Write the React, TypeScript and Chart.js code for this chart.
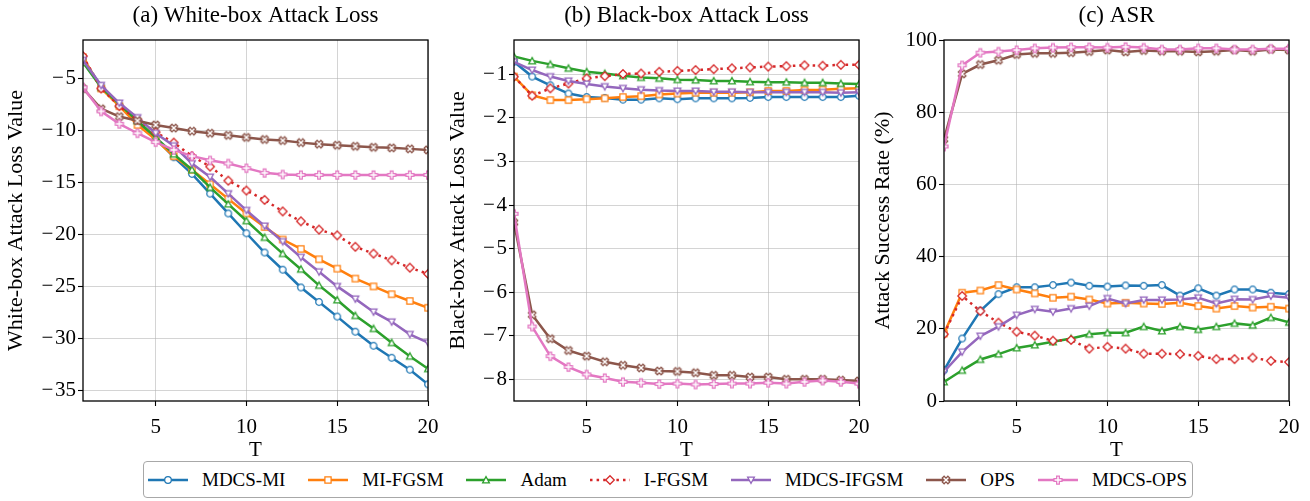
import React, { useEffect, useRef } from "react";
import { Chart, registerables } from "chart.js";

Chart.register(...registerables);

// ---------------- data ----------------
const T = [1, 2, 3, 4, 5, 6, 7, 8, 9, 10, 11, 12, 13, 14, 15, 16, 17, 18, 19, 20];

const SERIES_NAMES = ["MDCS-MI", "MI-FGSM", "Adam", "I-FGSM", "MDCS-IFGSM", "OPS", "MDCS-OPS"];

// (a) White-box attack loss
const wbMdcsMI = [-3.2, -5.8, -7.6, -9.2, -10.8, -12.6, -14.2, -16.1, -18.0, -19.9, -21.75, -23.4, -25.1, -26.5, -27.9, -29.35, -30.7, -31.85, -33.0, -34.4];
const wbMiFgsm = [-3.0, -6.0, -7.7, -9.5, -10.9, -12.5, -13.8, -15.2, -16.6, -18.0, -19.3, -20.5, -21.4, -22.4, -23.3, -24.25, -25.0, -25.75, -26.4, -27.05];
const wbAdam = [-3.5, -5.9, -7.5, -9.1, -10.7, -12.3, -13.8, -15.5, -17.1, -18.7, -20.3, -21.85, -23.35, -24.9, -26.3, -27.8, -29.05, -30.4, -31.7, -32.9];
const wbIFgsm = [-2.9, -6.0, -7.7, -9.0, -10.2, -11.2, -12.5, -13.5, -14.85, -15.8, -16.7, -17.8, -18.75, -19.55, -20.1, -21.2, -21.85, -22.5, -23.2, -23.8];
const wbMdcsIFgsm = [-3.3, -5.7, -7.4, -8.8, -10.3, -11.5, -13.2, -14.5, -16.1, -17.7, -19.2, -20.7, -22.2, -23.6, -25.0, -26.2, -27.45, -28.4, -29.6, -30.4];
const wbOps = [-6.0, -7.95, -8.7, -9.1, -9.5, -9.8, -10.1, -10.3, -10.5, -10.7, -10.9, -11.0, -11.2, -11.35, -11.45, -11.55, -11.65, -11.7, -11.8, -11.9];
const wbMdcsOps = [-5.9, -8.2, -9.4, -10.3, -11.15, -11.9, -12.5, -12.9, -13.2, -13.65, -14.1, -14.25, -14.3, -14.3, -14.3, -14.3, -14.3, -14.3, -14.3, -14.3];

// (b) Black-box attack loss
const bbMdcsMI = [-0.71, -1.05, -1.25, -1.44, -1.52, -1.54, -1.58, -1.58, -1.55, -1.57, -1.55, -1.55, -1.55, -1.54, -1.52, -1.52, -1.52, -1.52, -1.52, -1.49];
const bbMiFgsm = [-1.05, -1.48, -1.59, -1.59, -1.57, -1.55, -1.52, -1.5, -1.46, -1.44, -1.42, -1.42, -1.42, -1.41, -1.38, -1.38, -1.36, -1.35, -1.33, -1.32];
const bbAdam = [-0.59, -0.69, -0.77, -0.86, -0.94, -0.98, -1.03, -1.07, -1.09, -1.12, -1.13, -1.15, -1.15, -1.17, -1.18, -1.18, -1.19, -1.19, -1.21, -1.22];
const bbIFgsm = [-1.05, -1.49, -1.32, -1.21, -1.09, -1.04, -0.99, -0.98, -0.94, -0.92, -0.9, -0.88, -0.86, -0.84, -0.82, -0.81, -0.79, -0.8, -0.78, -0.78];
const bbMdcsIFgsm = [-0.71, -0.9, -1.05, -1.15, -1.22, -1.28, -1.32, -1.35, -1.37, -1.38, -1.38, -1.4, -1.4, -1.41, -1.41, -1.41, -1.41, -1.41, -1.42, -1.41];
const bbOps = [-4.4, -6.52, -7.07, -7.34, -7.47, -7.6, -7.68, -7.74, -7.81, -7.82, -7.85, -7.91, -7.91, -7.95, -7.95, -8.0, -8.0, -8.0, -8.02, -8.04];
const bbMdcsOps = [-4.2, -6.79, -7.47, -7.72, -7.89, -7.97, -8.06, -8.08, -8.11, -8.1, -8.12, -8.11, -8.1, -8.1, -8.08, -8.1, -8.06, -8.03, -8.06, -8.1];

// (c) ASR (%)
const asrMdcsMI = [8.5, 17.3, 25.0, 29.6, 31.5, 31.5, 32.1, 32.8, 31.9, 31.7, 32.0, 31.9, 32.1, 29.2, 31.2, 29.2, 30.9, 30.9, 30.0, 29.6];
const asrMiFgsm = [18.7, 30.0, 30.6, 32.1, 30.9, 29.8, 28.6, 28.9, 28.1, 27.0, 27.2, 27.0, 26.9, 27.2, 26.3, 25.6, 26.3, 25.9, 26.1, 25.6];
const asrAdam = [5.3, 8.5, 11.5, 13.0, 14.7, 15.5, 16.4, 17.3, 18.5, 18.9, 18.9, 20.6, 19.4, 20.6, 19.8, 20.6, 21.5, 21.0, 23.1, 21.8];
const asrIFgsm = [18.5, 29.1, 24.9, 21.7, 19.2, 18.1, 16.7, 16.9, 14.5, 15.0, 14.5, 13.1, 13.1, 13.0, 12.5, 11.6, 11.6, 12.0, 11.1, 10.8];
const asrMdcsIFgsm = [8.1, 13.6, 18.0, 20.6, 23.8, 25.4, 24.7, 25.6, 26.3, 28.4, 27.0, 28.0, 28.0, 28.1, 28.6, 27.0, 28.2, 28.1, 29.1, 28.6];
const asrOps = [72.5, 90.6, 93.2, 94.4, 96.0, 96.3, 96.3, 96.5, 96.8, 97.2, 96.7, 97.1, 96.9, 96.9, 96.7, 96.9, 97.2, 96.9, 97.4, 97.2];
const asrMdcsOps = [70.5, 93.0, 96.5, 96.8, 97.2, 97.7, 97.9, 98.0, 98.0, 97.9, 98.1, 97.9, 97.4, 97.4, 97.7, 97.7, 97.4, 97.4, 97.6, 97.6];

const X_TICKS = [5, 10, 15, 20];
const Y_TICKS_WB = [-35, -30, -25, -20, -15, -10, -5];
const Y_TICKS_BB = [-8, -7, -6, -5, -4, -3, -2, -1];
const Y_TICKS_ASR = [0, 20, 40, 60, 80, 100];

// ---------------- styles ----------------
const COLORS = ["#1f77b4", "#ff7f0e", "#2ca02c", "#d62728", "#9467bd", "#8c564b", "#e377c2"];
const MARKERS = ["o", "s", "^", "D", "v", "X", "P"];
const DOTTED = [false, false, false, true, false, false, false];
const FONT = "'Liberation Serif', 'Times New Roman', Times, serif";
const GRID = "rgba(176,176,176,0.55)";

Chart.defaults.font.family = FONT;
Chart.defaults.color = "#000";

type Pt = [number, number];

function markerPoly(kind: string): Pt[] | null {
  if (kind === "o") return null;
  if (kind === "s") { const h = 3.1; return [[-h, -h], [h, -h], [h, h], [-h, h]]; }
  if (kind === "^") { const r = 3.4; return [[0, -r], [r, r * 0.85], [-r, r * 0.85]]; }
  if (kind === "v") { const r = 3.4; return [[0, r], [r, -r * 0.85], [-r, -r * 0.85]]; }
  if (kind === "D") { const r = 4.3; return [[0, -r], [r, 0], [0, r], [-r, 0]]; }
  const r = 4.0, a = r / 3;
  const plus: Pt[] = [[-a, -r], [a, -r], [a, -a], [r, -a], [r, a], [a, a], [a, r], [-a, r], [-a, a], [-r, a], [-r, -a], [-a, -a]];
  if (kind === "P") return plus;
  const c = Math.SQRT1_2;
  return plus.map(([x, y]) => [c * (x - y), c * (x + y)] as Pt);
}

function makeMarkerCanvas(kind: string, color: string): HTMLCanvasElement {
  const cv = document.createElement("canvas");
  cv.width = 16; cv.height = 16;
  const ctx = cv.getContext("2d")!;
  ctx.translate(8, 8);
  ctx.beginPath();
  const poly = markerPoly(kind);
  if (!poly) ctx.arc(0, 0, 3.3, 0, Math.PI * 2);
  else { poly.forEach(([x, y], i) => (i ? ctx.lineTo(x, y) : ctx.moveTo(x, y))); ctx.closePath(); }
  ctx.fillStyle = "#fff";
  ctx.fill();
  ctx.lineWidth = 1.25;
  ctx.strokeStyle = color;
  ctx.lineJoin = "miter";
  ctx.stroke();
  return cv;
}

function fmtTick(v: number): string {
  return v < 0 ? "\u2212\u200A" + Math.abs(v) : String(v);
}

type PanelSpec = {
  title: string;
  yLabel: string;
  series: number[][];
  yMin: number;
  yMax: number;
  yTicks: number[];
  canvasLeft: number;
  canvasWidth: number;
  axisWidth: number;
  padRight: number;
  yTitlePad: number;
};

const CANVAS_H = 463;
const PLOT_TOP = 40;
const PLOT_BOTTOM = 401;

function ChartPanel({ spec }: { spec: PanelSpec }) {
  const ref = useRef<HTMLCanvasElement | null>(null);
  useEffect(() => {
    if (!ref.current) return;
    const datasets = spec.series.map((ys, i) => ({
      label: SERIES_NAMES[i],
      data: ys.map((y, k) => ({ x: T[k], y })),
      borderColor: COLORS[i],
      backgroundColor: COLORS[i],
      borderWidth: 2.5,
      borderDash: DOTTED[i] ? [2.5, 4.1] : [],
      pointStyle: makeMarkerCanvas(MARKERS[i], COLORS[i]) as any,
      pointRadius: 4,
      pointHoverRadius: 4,
      tension: 0,
      clip: 0,
      order: spec.series.length - i,
    }));
    const framePlugin = {
      id: "frameAndTitle",
      afterDatasetsDraw(chart: any) {
        const { ctx, chartArea: a } = chart;
        ctx.save();
        ctx.strokeStyle = "#000";
        ctx.lineWidth = 1.3;
        ctx.strokeRect(a.left, a.top, a.right - a.left, a.bottom - a.top);
        ctx.restore();
      },
      afterDraw(chart: any) {
        const { ctx, chartArea: a } = chart;
        ctx.save();
        ctx.fillStyle = "#000";
        ctx.font = `23px ${FONT}`;
        ctx.textAlign = "center";
        ctx.textBaseline = "alphabetic";
        ctx.fillText(spec.title, (a.left + a.right) / 2, 22);
        ctx.restore();
      },
    };
    const gridCommon = {
      color: GRID,
      lineWidth: 1,
      drawTicks: true,
      tickLength: 5,
      tickColor: "#000",
      tickWidth: 1.1,
    };
    const chart = new Chart(ref.current, {
      type: "line",
      data: { datasets: datasets as any },
      plugins: [framePlugin],
      options: {
        animation: false,
        responsive: false,
        devicePixelRatio: 1,
        events: [],
        layout: { padding: { left: 0, top: PLOT_TOP, right: spec.padRight, bottom: 0 } },
        plugins: { legend: { display: false }, tooltip: { enabled: false }, title: { display: false } },
        scales: {
          x: {
            type: "linear",
            min: 1,
            max: 20,
            afterBuildTicks: (s: any) => { s.ticks = X_TICKS.map((v) => ({ value: v })); },
            afterFit: (s: any) => {
              s.height = CANVAS_H - PLOT_BOTTOM;
              s.paddingLeft = 0;
              s.paddingRight = 0;
            },
            grid: gridCommon,
            border: { display: false },
            ticks: { font: { size: 21, family: FONT }, color: "#000", padding: 9, maxRotation: 0, autoSkip: false, callback: (v: any) => fmtTick(Number(v)) },
            title: { display: true, text: "T", font: { size: 21, family: FONT }, color: "#000", padding: { top: 0, bottom: 0 } },
          },
          y: {
            type: "linear",
            min: spec.yMin,
            max: spec.yMax,
            afterBuildTicks: (s: any) => { s.ticks = spec.yTicks.map((v) => ({ value: v })); },
            afterFit: (s: any) => {
              s.width = spec.axisWidth;
              s.paddingTop = 0;
              s.paddingBottom = 0;
            },
            grid: gridCommon,
            border: { display: false },
            ticks: { font: { size: 21, family: FONT }, color: "#000", padding: 2, autoSkip: false, callback: (v: any) => fmtTick(Number(v)) },
            title: { display: true, text: spec.yLabel, font: { size: 22, family: FONT }, color: "#000", padding: { top: spec.yTitlePad, bottom: 0 } },
          },
        },
      } as any,
    });
    return () => chart.destroy();
  }, []);
  return (
    <canvas
      ref={ref}
      width={spec.canvasWidth}
      height={CANVAS_H}
      style={{ position: "absolute", left: spec.canvasLeft, top: 0, width: spec.canvasWidth, height: CANVAS_H }}
    />
  );
}

const PANELS: PanelSpec[] = [
  {
    title: "(a) White-box Attack Loss",
    yLabel: "White-box Attack Loss Value",
    series: [wbMdcsMI, wbMiFgsm, wbAdam, wbIFgsm, wbMdcsIFgsm, wbOps, wbMdcsOps],
    yMin: -36.0, yMax: -1.35, yTicks: Y_TICKS_WB,
    canvasLeft: 0, canvasWidth: 440, axisWidth: 83, padRight: 12, yTitlePad: 3,
  },
  {
    title: "(b) Black-box Attack Loss",
    yLabel: "Black-box Attack Loss Value",
    series: [bbMdcsMI, bbMiFgsm, bbAdam, bbIFgsm, bbMdcsIFgsm, bbOps, bbMdcsOps],
    yMin: -8.5, yMax: -0.21, yTicks: Y_TICKS_BB,
    canvasLeft: 440, canvasWidth: 430, axisWidth: 74, padRight: 11, yTitlePad: 5,
  },
  {
    title: "(c) ASR",
    yLabel: "Attack Success Rate (%)",
    series: [asrMdcsMI, asrMiFgsm, asrAdam, asrIFgsm, asrMdcsIFgsm, asrOps, asrMdcsOps],
    yMin: 0, yMax: 100, yTicks: Y_TICKS_ASR,
    canvasLeft: 870, canvasWidth: 440, axisWidth: 74, padRight: 21, yTitlePad: 0,
  },
];

function LegendMarker({ kind, color }: { kind: string; color: string }) {
  const poly = markerPoly(kind);
  const cx = 20, cy = 10;
  return poly ? (
    <polygon
      points={poly.map(([x, y]) => `${cx + x},${cy + y}`).join(" ")}
      fill="#fff" stroke={color} strokeWidth={1.25}
    />
  ) : (
    <circle cx={cx} cy={cy} r={3.3} fill="#fff" stroke={color} strokeWidth={1.25} />
  );
}

function Legend() {
  return (
    <div
      style={{
        position: "absolute", left: 143, top: 461, width: 1050, height: 37, boxSizing: "border-box",
        border: "1.5px solid #a8a8a8", borderRadius: 4, background: "#fff",
        display: "flex", alignItems: "center", justifyContent: "space-between",
        padding: "0 5px 0 4px", fontFamily: FONT, fontSize: 19, color: "#000",
      }}
    >
      {SERIES_NAMES.map((name, i) => (
        <div key={name} style={{ display: "flex", alignItems: "center", whiteSpace: "nowrap" }}>
          <svg width={40} height={20} style={{ marginRight: 14, display: "block" }}>
            <line x1={0} y1={10} x2={40} y2={10} stroke={COLORS[i]} strokeWidth={2.5}
              strokeDasharray={DOTTED[i] ? "2.5 4.1" : undefined} />
            <LegendMarker kind={MARKERS[i]} color={COLORS[i]} />
          </svg>
          <span>{name}</span>
        </div>
      ))}
    </div>
  );
}

export default function App() {
  return (
    <div style={{ position: "absolute", left: 0, top: 0, width: 1310, height: 501, background: "#fff", overflow: "hidden" }}>
      {PANELS.map((p) => (
        <ChartPanel key={p.title} spec={p} />
      ))}
      <Legend />
    </div>
  );
}
